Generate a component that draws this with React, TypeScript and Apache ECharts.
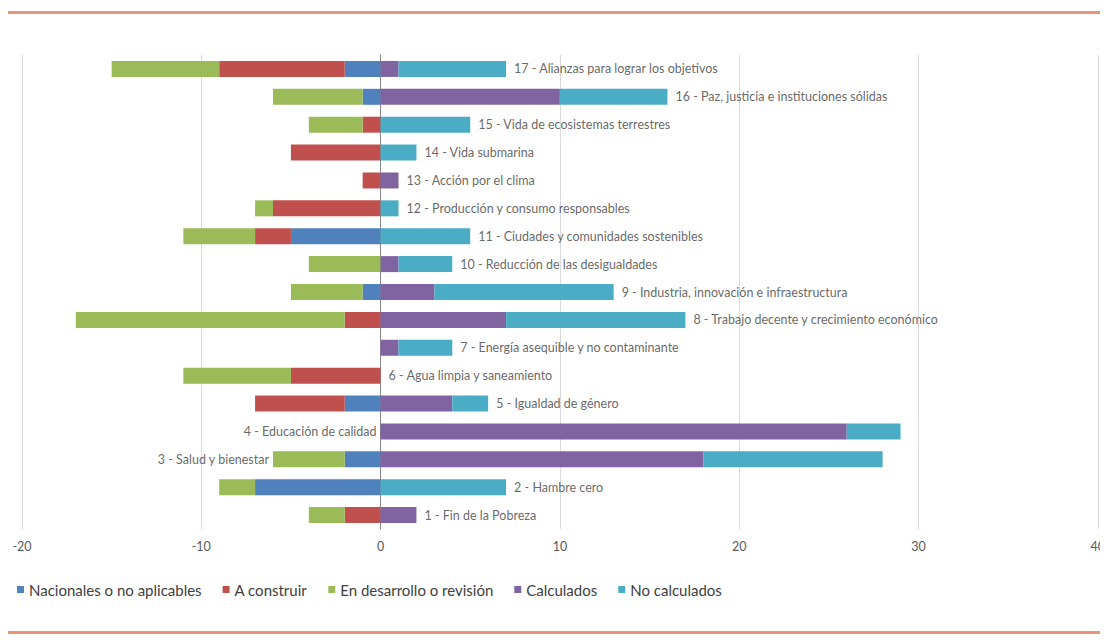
import React, { useEffect, useRef } from "react";
import * as echarts from "echarts";

const categories = [
  "1 - Fin de la Pobreza",
  "2 - Hambre cero",
  "3 - Salud y bienestar",
  "4 - Educación de calidad",
  "5 - Igualdad de género",
  "6 - Agua limpia y saneamiento",
  "7 - Energía asequible y no contaminante",
  "8 - Trabajo decente y crecimiento económico",
  "9 - Industria, innovación e infraestructura",
  "10 - Reducción de las desigualdades",
  "11 - Ciudades y comunidades sostenibles",
  "12 - Producción y consumo responsables",
  "13 - Acción por el clima",
  "14 - Vida submarina",
  "15 - Vida de ecosistemas terrestres",
  "16 - Paz, justicia e instituciones sólidas",
  "17 - Alianzas para lograr los objetivos",
];

const nacionales = [0, -7, -2, 0, -2, 0, 0, 0, -1, 0, -5, 0, 0, 0, 0, -1, -2];
const aConstruir = [-2, 0, 0, 0, -5, -5, 0, -2, 0, 0, -2, -6, -1, -5, -1, 0, -7];
const enDesarrollo = [-2, -2, -4, 0, 0, -6, 0, -15, -4, -4, -4, -1, 0, 0, -3, -5, -6];
const calculados = [2, 0, 18, 26, 4, 0, 1, 7, 3, 1, 0, 0, 1, 0, 0, 10, 1];
const noCalculados = [0, 7, 10, 3, 2, 0, 3, 10, 10, 3, 5, 1, 0, 2, 5, 6, 6];

const seriesNames = [
  "Nacionales o no aplicables",
  "A construir",
  "En desarrollo o revisión",
  "Calculados",
  "No calculados",
];
const seriesColors = ["#4F81BD", "#C0504D", "#9BBB59", "#8064A2", "#4BACC6"];

// goals whose label sits to the left of the bars
const leftLabelGoals = ["3 - Salud y bienestar", "4 - Educación de calidad"];

const xTicks = { min: -20, max: 40, interval: 10 };

const FONT = "Lato";

export default function App() {
  const ref = useRef<HTMLDivElement>(null);

  useEffect(() => {
    if (!ref.current) return;
    const chart = echarts.init(ref.current, null, { renderer: "svg" });
    const values = [nacionales, aConstruir, enDesarrollo, calculados, noCalculados];

    const barSeries = values.map((arr, i) => ({
      name: seriesNames[i],
      type: "bar",
      stack: "total",
      barWidth: 16,
      itemStyle: { color: seriesColors[i] },
      data: arr,
      silent: true,
    }));

    const labelData = categories.map((c, i) => {
      const pos = calculados[i] + noCalculados[i];
      const neg = nacionales[i] + aConstruir[i] + enDesarrollo[i];
      const left = leftLabelGoals.includes(c);
      return {
        value: [left ? neg : pos, c],
        label: {
          position: left ? "left" : "right",
          distance: left ? 4 : 8,
        },
      };
    });

    chart.setOption({
      animation: false,
      grid: { left: 22, right: 6, top: 55, bottom: 114, containLabel: false },
      legend: {
        data: seriesNames,
        left: 12,
        top: 577,
        itemWidth: 7,
        itemHeight: 7,
        itemGap: 21,
        icon: "rect",
        textStyle: { fontFamily: FONT, fontSize: 15, color: "#404040" },
      },
      xAxis: {
        type: "value",
        min: xTicks.min,
        max: xTicks.max,
        interval: xTicks.interval,
        axisLine: { show: false },
        axisTick: { show: false },
        splitLine: { show: true, lineStyle: { color: "#D9D9D9", width: 1 } },
        axisLabel: {
          fontFamily: FONT,
          fontSize: 12.5,
          color: "#595959",
          margin: 11,
        },
      },
      yAxis: {
        type: "category",
        data: categories,
        axisLine: { show: true, onZero: true, lineStyle: { color: "#868686" } },
        axisTick: { show: false },
        axisLabel: { show: false },
        splitLine: { show: false },
      },
      series: [
        ...barSeries,
        {
          name: "labels",
          type: "scatter",
          symbolSize: 0,
          silent: true,
          data: labelData,
          label: {
            show: true,
            formatter: (p: any) => p.value[1],
            fontFamily: FONT,
            fontSize: 12.5,
            color: "#404040",
          },
          z: 5,
        },
      ],
      graphic: [
        {
          type: "rect",
          left: 6,
          top: 11,
          shape: { width: 1102, height: 3 },
          style: { fill: "#E8957C" },
          silent: true,
        },
        {
          type: "rect",
          left: 8,
          top: 631,
          shape: { width: 1100, height: 3 },
          style: { fill: "#E8957C" },
          silent: true,
        },
      ],
    });

    return () => chart.dispose();
  }, []);

  return <div ref={ref} style={{ width: 1108, height: 643, margin: -8 }} />;
}
